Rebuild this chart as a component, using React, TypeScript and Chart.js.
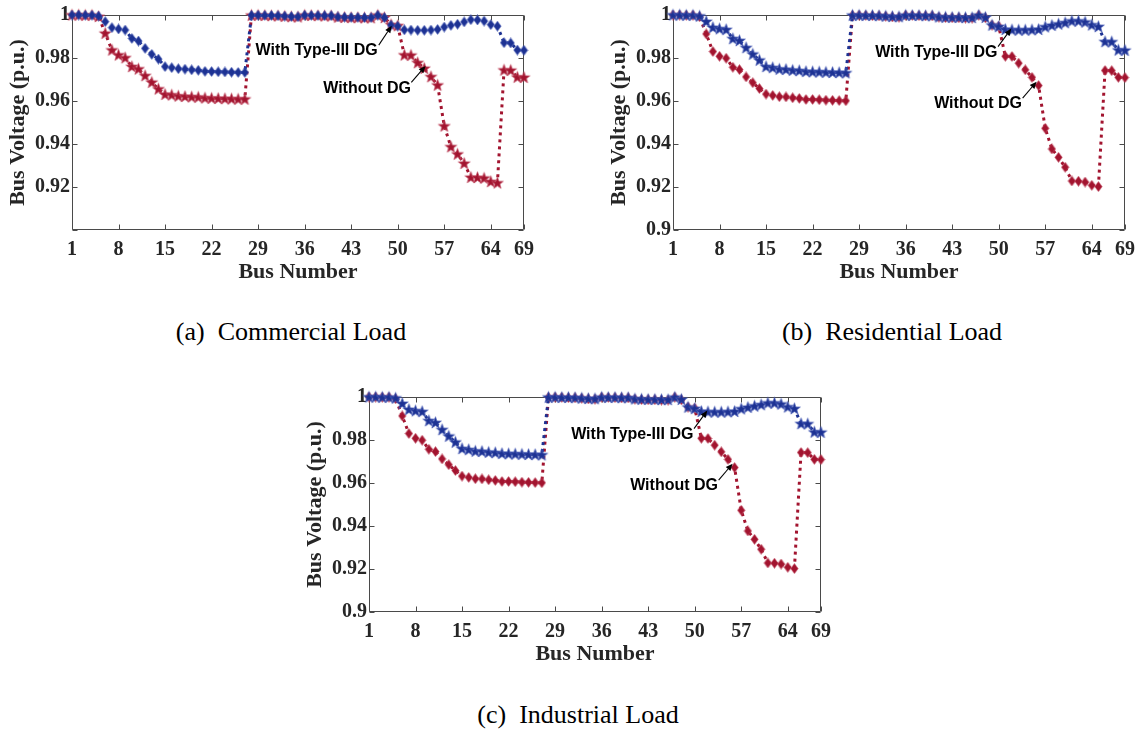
import { useEffect, useRef } from "react";
import { Chart, registerables } from "chart.js";

Chart.register(...registerables);

// Bus indices of the 69-bus feeder
const busNumbers = [
  1, 2, 3, 4, 5, 6, 7, 8, 9, 10, 11, 12, 13, 14, 15, 16, 17, 18, 19, 20, 21, 22, 23,
  24, 25, 26, 27, 28, 29, 30, 31, 32, 33, 34, 35, 36, 37, 38, 39, 40, 41, 42, 43, 44, 45, 46,
  47, 48, 49, 50, 51, 52, 53, 54, 55, 56, 57, 58, 59, 60, 61, 62, 63, 64, 65, 66, 67, 68, 69,
];

const xTickValues = [1, 8, 15, 22, 29, 36, 43, 50, 57, 64, 69];
const yTickValues = [0.9, 0.92, 0.94, 0.96, 0.98, 1];

// Commercial load
const commercialWithoutDG = [
  1.0, 1.0, 0.9999, 0.9999, 0.9993, 0.9915, 0.9837, 0.9814, 0.9801, 0.976, 0.9749, 0.9718,
  0.9687, 0.9656, 0.9631, 0.9628, 0.9623, 0.9621, 0.9619, 0.9618, 0.9614, 0.9613, 0.9612,
  0.9611, 0.961, 0.9609, 0.9609, 0.9999, 0.9999, 0.9998, 0.9997, 0.9996, 0.9994, 0.9992,
  0.9991, 0.9999, 0.9998, 0.9997, 0.9996, 0.9996, 0.999, 0.9989, 0.9988, 0.9988, 0.9987,
  0.9987, 0.9999, 0.9988, 0.9955, 0.995, 0.9814, 0.9813, 0.9778, 0.9752, 0.9713, 0.9674,
  0.9484, 0.9387, 0.9353, 0.931, 0.9245, 0.9244, 0.9241, 0.9225, 0.9219, 0.9744, 0.9743,
  0.9711, 0.971,
];
const commercialWithDG = [
  1.0, 1.0, 0.9999, 0.9999, 0.9995, 0.9969, 0.9941, 0.9935, 0.993, 0.9891, 0.9879, 0.9845,
  0.9817, 0.9795, 0.976, 0.9755, 0.975, 0.9748, 0.9745, 0.9743, 0.9738, 0.9737, 0.9736,
  0.9735, 0.9734, 0.9733, 0.9733, 0.9999, 0.9999, 0.9998, 0.9998, 0.9997, 0.9995, 0.9993,
  0.9992, 0.9999, 0.9998, 0.9998, 0.9997, 0.9997, 0.9991, 0.999, 0.9989, 0.9989, 0.9988,
  0.9988, 0.9999, 0.9988, 0.9953, 0.9948, 0.9931, 0.993, 0.9929, 0.9929, 0.993, 0.9933,
  0.9944, 0.9952, 0.9957, 0.9968, 0.9978, 0.9977, 0.9972, 0.9955, 0.9948, 0.9871, 0.987,
  0.9837, 0.9836,
];

// Residential load
const residentialWithoutDG = [
  1.0, 1.0, 0.9999, 0.9999, 0.9992, 0.9912, 0.983, 0.9808, 0.9799, 0.9757, 0.9746, 0.9712,
  0.9685, 0.9658, 0.9632, 0.9626, 0.962, 0.9619, 0.9615, 0.9612, 0.9607, 0.9607, 0.9606,
  0.9604, 0.9603, 0.9602, 0.9601, 0.9999, 0.9999, 0.9998, 0.9997, 0.9996, 0.9994, 0.9991,
  0.999, 0.9999, 0.9998, 0.9997, 0.9996, 0.9996, 0.999, 0.9988, 0.9987, 0.9987, 0.9986,
  0.9986, 0.9999, 0.9987, 0.9953, 0.9948, 0.9808, 0.9807, 0.9776, 0.9745, 0.971, 0.9672,
  0.9473, 0.9377, 0.9338, 0.9292, 0.9228, 0.9227, 0.9223, 0.9208, 0.9202, 0.9742, 0.9741,
  0.971, 0.9709,
];
const residentialWithDG = [
  1.0, 1.0, 0.9999, 0.9999, 0.9995, 0.997, 0.9942, 0.9936, 0.9932, 0.989, 0.9881, 0.9848,
  0.9818, 0.979, 0.976, 0.9755, 0.9748, 0.9747, 0.9743, 0.9741, 0.9737, 0.9736, 0.9735,
  0.9734, 0.9733, 0.9732, 0.9731, 0.9999, 0.9999, 0.9998, 0.9998, 0.9997, 0.9995, 0.9993,
  0.9992, 0.9999, 0.9998, 0.9998, 0.9997, 0.9997, 0.9991, 0.999, 0.9989, 0.9989, 0.9988,
  0.9988, 0.9999, 0.9989, 0.9953, 0.9946, 0.9933, 0.9931, 0.993, 0.993, 0.9931, 0.9933,
  0.9945, 0.9952, 0.9958, 0.9964, 0.9972, 0.9972, 0.9967, 0.9954, 0.9946, 0.9876, 0.9875,
  0.9837, 0.9836,
];

// Industrial load
const industrialWithoutDG = [
  1.0, 1.0, 0.9999, 0.9999, 0.9992, 0.9912, 0.983, 0.9808, 0.9799, 0.9757, 0.9746, 0.9712,
  0.9685, 0.9658, 0.9632, 0.9626, 0.962, 0.9619, 0.9615, 0.9612, 0.9607, 0.9607, 0.9606,
  0.9604, 0.9603, 0.9602, 0.9601, 0.9999, 0.9999, 0.9998, 0.9997, 0.9996, 0.9994, 0.9991,
  0.999, 0.9999, 0.9998, 0.9997, 0.9996, 0.9996, 0.999, 0.9988, 0.9987, 0.9987, 0.9986,
  0.9986, 0.9999, 0.9987, 0.9953, 0.9948, 0.9808, 0.9807, 0.9776, 0.9745, 0.971, 0.9672,
  0.9473, 0.9377, 0.9338, 0.9292, 0.9228, 0.9227, 0.9223, 0.9208, 0.9202, 0.9742, 0.9741,
  0.971, 0.9709,
];
const industrialWithDG = [
  1.0, 1.0, 0.9999, 0.9999, 0.9995, 0.997, 0.9942, 0.9936, 0.9932, 0.989, 0.9881, 0.9848,
  0.9818, 0.979, 0.976, 0.9755, 0.9748, 0.9747, 0.9743, 0.9741, 0.9737, 0.9736, 0.9735,
  0.9734, 0.9733, 0.9732, 0.9731, 0.9999, 0.9999, 0.9998, 0.9998, 0.9997, 0.9995, 0.9993,
  0.9992, 0.9999, 0.9998, 0.9998, 0.9997, 0.9997, 0.9991, 0.999, 0.9989, 0.9989, 0.9988,
  0.9988, 0.9999, 0.9989, 0.9953, 0.9946, 0.9933, 0.9931, 0.993, 0.993, 0.9931, 0.9933,
  0.9945, 0.9952, 0.9958, 0.9964, 0.9972, 0.9972, 0.9967, 0.9954, 0.9946, 0.9876, 0.9875,
  0.9837, 0.9836,
];

const RED = "#A2142F";
const RED_EDGE = "#c24a61";
const BLUE = "#1D3293";
const BLUE_EDGE = "#4b5fb8";
const AXIS_COLOR = "#4a4a4a";
const TEXT_COLOR = "#262626";
const SERIF = '"Liberation Serif", "Times New Roman", serif';
const SANS = '"Liberation Sans", Arial, sans-serif';

// Plot-box geometry shared by the three panels
const PLOT_W = 460;
const PLOT_H = 215;
const Y_AXIS_W = 72;
const X_AXIS_H = 56;
const PAD_TOP = 15;
const PAD_RIGHT = 12;

type Marker = "star" | "diamond";
type Callout = { text: string; textAt: [number, number]; from: [number, number]; to: [number, number] };

type PanelSpec = {
  caption: string;
  withoutDG: number[];
  withDG: number[];
  withoutMarker: Marker;
  withMarker: Marker;
  plotLeft: number;
  plotTop: number;
  captionX: number;
  captionY: number;
  hideLowestLabel: boolean;
  callouts: Callout[];
};

const sideCallouts: Callout[] = [
  { text: "With Type-III DG", textAt: [49.8, 0.9825], from: [49.9, 0.9853], to: [51.9, 0.9937] },
  { text: "Without DG", textAt: [53.5, 0.9586], from: [53.6, 0.9613], to: [55.7, 0.969] },
];

const panels: PanelSpec[] = [
  {
    caption: "(a)  Commercial Load",
    withoutDG: commercialWithoutDG,
    withDG: commercialWithDG,
    withoutMarker: "star",
    withMarker: "diamond",
    plotLeft: 72,
    plotTop: 15,
    captionX: 291,
    captionY: 332,
    hideLowestLabel: true,
    callouts: [
      { text: "With Type-III DG", textAt: [47.0, 0.9833], from: [47.15, 0.986], to: [49.1, 0.995] },
      { text: "Without DG", textAt: [52.0, 0.9659], from: [52.05, 0.9687], to: [54.2, 0.9763] },
    ],
  },
  {
    caption: "(b)  Residential Load",
    withoutDG: residentialWithoutDG,
    withDG: residentialWithDG,
    withoutMarker: "diamond",
    withMarker: "star",
    plotLeft: 673,
    plotTop: 15,
    captionX: 892,
    captionY: 332,
    hideLowestLabel: false,
    callouts: sideCallouts,
  },
  {
    caption: "(c)  Industrial Load",
    withoutDG: industrialWithoutDG,
    withDG: industrialWithDG,
    withoutMarker: "diamond",
    withMarker: "star",
    plotLeft: 369,
    plotTop: 397,
    captionX: 578,
    captionY: 715,
    hideLowestLabel: false,
    callouts: sideCallouts,
  },
];

function makeStar(fill: string, edge: string): HTMLCanvasElement {
  const c = document.createElement("canvas");
  c.width = 15;
  c.height = 15;
  const ctx = c.getContext("2d")!;
  const cx = 7.5;
  const cy = 7.9;
  const R = 6.2;
  const r = 2.5;
  ctx.beginPath();
  for (let i = 0; i < 10; i++) {
    const rad = i % 2 === 0 ? R : r;
    const a = -Math.PI / 2 + (i * Math.PI) / 5;
    const px = cx + rad * Math.cos(a);
    const py = cy + rad * Math.sin(a);
    if (i === 0) ctx.moveTo(px, py);
    else ctx.lineTo(px, py);
  }
  ctx.closePath();
  ctx.fillStyle = fill;
  ctx.fill();
  ctx.lineWidth = 0.7;
  ctx.strokeStyle = edge;
  ctx.stroke();
  return c;
}

function makeDiamond(fill: string, edge: string): HTMLCanvasElement {
  const c = document.createElement("canvas");
  c.width = 9;
  c.height = 11;
  const ctx = c.getContext("2d")!;
  ctx.beginPath();
  ctx.moveTo(4.5, 0.6);
  ctx.lineTo(8.2, 5.5);
  ctx.lineTo(4.5, 10.4);
  ctx.lineTo(0.8, 5.5);
  ctx.closePath();
  ctx.fillStyle = fill;
  ctx.fill();
  ctx.lineWidth = 0.6;
  ctx.strokeStyle = edge;
  ctx.stroke();
  return c;
}

function formatVoltage(v: number): string {
  return String(Number(v.toFixed(2)));
}

function VoltagePanel({ spec }: { spec: PanelSpec }) {
  const canvasRef = useRef<HTMLCanvasElement>(null);
  const width = Y_AXIS_W + PLOT_W + PAD_RIGHT;
  const height = PAD_TOP + PLOT_H + X_AXIS_H;

  useEffect(() => {
    const canvas = canvasRef.current;
    if (!canvas) return;

    const redMarker = spec.withoutMarker === "star" ? makeStar(RED, RED_EDGE) : makeDiamond(RED, RED_EDGE);
    const blueMarker = spec.withMarker === "star" ? makeStar(BLUE, BLUE_EDGE) : makeDiamond(BLUE, BLUE_EDGE);

    // Axes box with inward tick marks on all four sides
    const framePlugin = {
      id: "frame",
      beforeDatasetsDraw(chart: any) {
        const { ctx, chartArea: a, scales } = chart;
        const L = Math.round(a.left) + 0.5;
        const R = Math.round(a.right) - 0.5;
        const T = Math.round(a.top) + 0.5;
        const B = Math.round(a.bottom) - 0.5;
        const tick = 5;
        ctx.save();
        ctx.strokeStyle = AXIS_COLOR;
        ctx.lineWidth = 1;
        ctx.beginPath();
        ctx.rect(L, T, R - L, B - T);
        for (const v of xTickValues) {
          const px = Math.round(scales.x.getPixelForValue(v)) + 0.5;
          ctx.moveTo(px, B);
          ctx.lineTo(px, B - tick);
          ctx.moveTo(px, T);
          ctx.lineTo(px, T + tick);
        }
        for (const v of yTickValues) {
          const py = Math.round(scales.y.getPixelForValue(v)) + 0.5;
          ctx.moveTo(L, py);
          ctx.lineTo(L + tick, py);
          ctx.moveTo(R, py);
          ctx.lineTo(R - tick, py);
        }
        ctx.stroke();
        ctx.restore();
      },
    };

    // Text callouts with arrows pointing at the curves
    const calloutPlugin = {
      id: "callouts",
      afterDatasetsDraw(chart: any) {
        const { ctx, scales } = chart;
        const xs = scales.x;
        const ys = scales.y;
        ctx.save();
        ctx.font = `bold 16px ${SANS}`;
        ctx.fillStyle = "#000";
        ctx.textAlign = "right";
        ctx.textBaseline = "middle";
        for (const c of spec.callouts) {
          ctx.fillText(c.text, xs.getPixelForValue(c.textAt[0]), ys.getPixelForValue(c.textAt[1]));
          const x0 = xs.getPixelForValue(c.from[0]);
          const y0 = ys.getPixelForValue(c.from[1]);
          const x1 = xs.getPixelForValue(c.to[0]);
          const y1 = ys.getPixelForValue(c.to[1]);
          const ang = Math.atan2(y1 - y0, x1 - x0);
          const hl = 7;
          const hw = 3;
          const bx = x1 - hl * Math.cos(ang);
          const by = y1 - hl * Math.sin(ang);
          ctx.strokeStyle = "#000";
          ctx.lineWidth = 1.1;
          ctx.beginPath();
          ctx.moveTo(x0, y0);
          ctx.lineTo(bx, by);
          ctx.stroke();
          ctx.beginPath();
          ctx.moveTo(x1, y1);
          ctx.lineTo(bx + hw * Math.sin(ang), by - hw * Math.cos(ang));
          ctx.lineTo(bx - hw * Math.sin(ang), by + hw * Math.cos(ang));
          ctx.closePath();
          ctx.fill();
        }
        ctx.restore();
      },
    };

    const toPoints = (vals: number[]) => busNumbers.map((b, i) => ({ x: b, y: vals[i] }));

    const chart = new Chart(canvas, {
      type: "line",
      data: {
        datasets: [
          {
            label: "With Type-III DG",
            data: toPoints(spec.withDG),
            borderColor: BLUE,
            backgroundColor: BLUE,
            borderWidth: 3,
            borderDash: [3, 4],
            borderCapStyle: "butt",
            pointStyle: blueMarker as any,
            pointRadius: 5,
            pointHoverRadius: 5,
            clip: false as any,
            order: 0,
          },
          {
            label: "Without DG",
            data: toPoints(spec.withoutDG),
            borderColor: RED,
            backgroundColor: RED,
            borderWidth: 3,
            borderDash: [3, 4],
            borderCapStyle: "butt",
            pointStyle: redMarker as any,
            pointRadius: 5,
            pointHoverRadius: 5,
            clip: false as any,
            order: 1,
          },
        ],
      },
      options: {
        animation: false,
        responsive: false,
        devicePixelRatio: 1,
        events: [],
        layout: { padding: { top: PAD_TOP, right: PAD_RIGHT, left: 0, bottom: 0 } },
        elements: { line: { tension: 0 } },
        plugins: { legend: { display: false }, tooltip: { enabled: false } },
        scales: {
          x: {
            type: "linear",
            min: 1,
            max: 69,
            afterBuildTicks: (s: any) => {
              s.ticks = xTickValues.map((v) => ({ value: v }));
            },
            afterFit: (s: any) => {
              s.height = X_AXIS_H;
            },
            grid: { display: false, drawTicks: false },
            border: { display: false },
            ticks: {
              autoSkip: false,
              maxRotation: 0,
              padding: 10,
              color: TEXT_COLOR,
              font: { family: SERIF, weight: "bold", size: 20, lineHeight: 1 },
              callback: (v: any) => String(v),
            },
            title: {
              display: true,
              text: "Bus Number",
              color: TEXT_COLOR,
              font: { family: SERIF, weight: "bold", size: 22 },
              padding: { top: 0, bottom: 0 },
            },
          },
          y: {
            type: "linear",
            min: 0.9,
            max: 1,
            afterBuildTicks: (s: any) => {
              s.ticks = yTickValues.map((v) => ({ value: v }));
            },
            afterFit: (s: any) => {
              s.width = Y_AXIS_W;
            },
            grid: { display: false, drawTicks: false },
            border: { display: false },
            ticks: {
              padding: 2,
              color: TEXT_COLOR,
              font: { family: SERIF, weight: "bold", size: 20, lineHeight: 1 },
              callback: (v: any) => (spec.hideLowestLabel && Math.abs(v - 0.9) < 1e-9 ? "" : formatVoltage(v)),
            },
            title: {
              display: true,
              text: "Bus Voltage (p.u.)",
              color: TEXT_COLOR,
              font: { family: SERIF, weight: "bold", size: 22 },
              padding: { top: 5, bottom: 0 },
            },
          },
        },
      } as any,
      plugins: [framePlugin, calloutPlugin],
    });

    return () => chart.destroy();
  }, [spec]);

  return (
    <>
      <div
        style={{
          position: "absolute",
          left: spec.plotLeft - Y_AXIS_W,
          top: spec.plotTop - PAD_TOP,
          width,
          height,
        }}
      >
        <canvas ref={canvasRef} width={width} height={height} style={{ display: "block", width, height }} />
      </div>
      <div
        style={{
          position: "absolute",
          left: spec.captionX - 200,
          top: spec.captionY - 15,
          width: 400,
          height: 30,
          lineHeight: "30px",
          textAlign: "center",
          fontFamily: SERIF,
          fontSize: 26,
          color: "#000",
          whiteSpace: "pre",
        }}
      >
        {spec.caption}
      </div>
    </>
  );
}

export default function App() {
  return (
    <div
      style={{
        position: "absolute",
        left: 0,
        top: 0,
        width: 1145,
        height: 729,
        overflow: "hidden",
        background: "#fff",
      }}
    >
      {panels.map((p) => (
        <VoltagePanel key={p.caption} spec={p} />
      ))}
    </div>
  );
}
